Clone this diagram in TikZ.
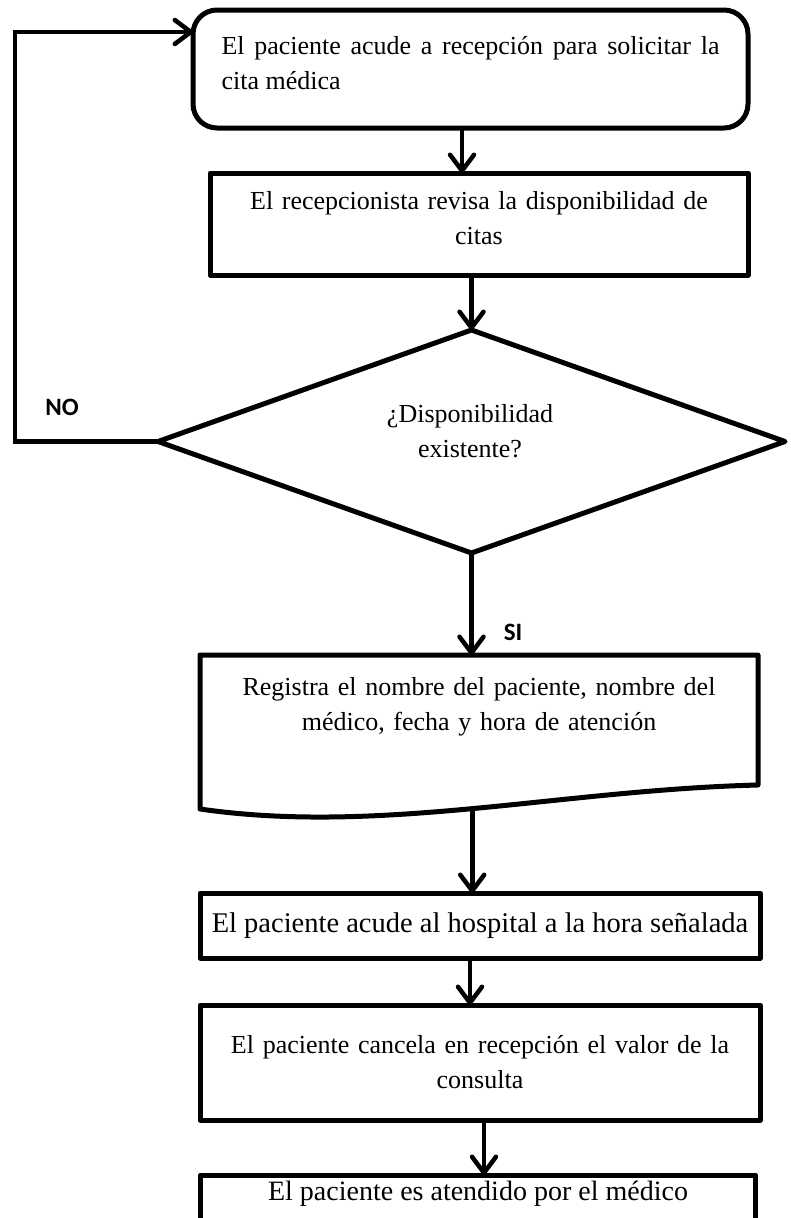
\documentclass[tikz,border=0pt]{standalone}
\usepackage{fontspec}
\setmainfont{Liberation Serif}
\newfontfamily\etiquetafont{Carlito}
\usetikzlibrary{shapes.geometric,arrows.meta,calc}

\begin{document}
\begin{tikzpicture}[x=1pt,y=-1pt,
		caja/.style={draw,line width=5pt,line join=round,outer sep=0pt,inner ysep=8pt,font=\fontsize{26}{35}\selectfont},
		flecha/.style={line width=4.5pt,-{Straight Barb[round,length=16pt,width=24pt]}},
		etiqueta/.style={font=\etiquetafont\bfseries\fontsize{25}{30}\selectfont}]
	\useasboundingbox (0,0) rectangle (790,1218);

		\node[caja,anchor=north,rounded corners=24pt,minimum width=555pt,text width=498pt,align=justify,text height=36pt,text depth=66pt] (cita) at (470.5,10) {El paciente acude a recepción para solicitar la cita médica};
		\node[caja,anchor=north,minimum width=538pt,text width=500pt,align=center,text height=28pt,text depth=58pt] (revisa) at (479,173) {El recepcionista revisa la disponibilidad de\\citas};
		\node[caja,shape=diamond,minimum width=627pt,minimum height=223pt] (dispo) at (471.5,441.5) {};
		\node[font=\fontsize{26}{35}\selectfont,align=center] (pregunta) at (470,431) {¿Disponibilidad\\existente?};
		\node[caja,draw=none,anchor=north,minimum width=558pt,text width=530pt,align=center,text height=32pt,text depth=78pt] (registro) at (479,655) {Registra el nombre del paciente, nombre del\\médico, fecha y hora de atención};
		\node[caja,anchor=north,minimum width=560pt,text height=31pt,text depth=18pt,font=\fontsize{28.5}{35}\selectfont] (hospital) at (480,893) {El paciente acude al hospital a la hora señalada};
		\node[caja,anchor=north,minimum width=560pt,text width=530pt,align=center,text height=40pt,text depth=59pt] (cancela) at (480,1005) {El paciente cancela en recepción el valor de la\\consulta};
		\node[caja,anchor=north,minimum width=555pt,text height=17pt,text depth=52pt,font=\fontsize{28}{35}\selectfont] (atendido) at (478,1175) {El paciente es atendido por el médico};

		\draw[line width=5pt,line join=round] (registro.north west) -- (registro.north east) -- ($(registro.south east)+(0,4)$) .. controls (560,790) and (380,835) .. coordinate[pos=.5] (regbot) ($(registro.south west)+(0,28)$) -- cycle;

		\node[etiqueta] (no) at (62,407) {NO};
		\node[etiqueta] (si) at (513,632) {SI};
		\coordinate (bucle) at (15,32);

		\draw[flecha] ([xshift=-8.5pt]cita.south) -- ([xshift=-8.5pt]cita.south |- revisa.north);
		\draw[flecha] (dispo.north |- revisa.south) -- (dispo.north);
		\draw[flecha] (dispo.south) -- (dispo.south |- registro.north);
		\draw[flecha] (regbot) -- (regbot |- hospital.north);
		\draw[flecha] ([xshift=-10pt]hospital.south) -- ([xshift=-10pt]hospital.south |- cancela.north);
		\draw[flecha] ([xshift=4pt]cancela.south) -- ([xshift=4pt]cancela.south |- atendido.north);
		\draw[flecha] (dispo.west) -| (bucle) -- (bucle -| cita.west);

\end{tikzpicture}
\end{document}
